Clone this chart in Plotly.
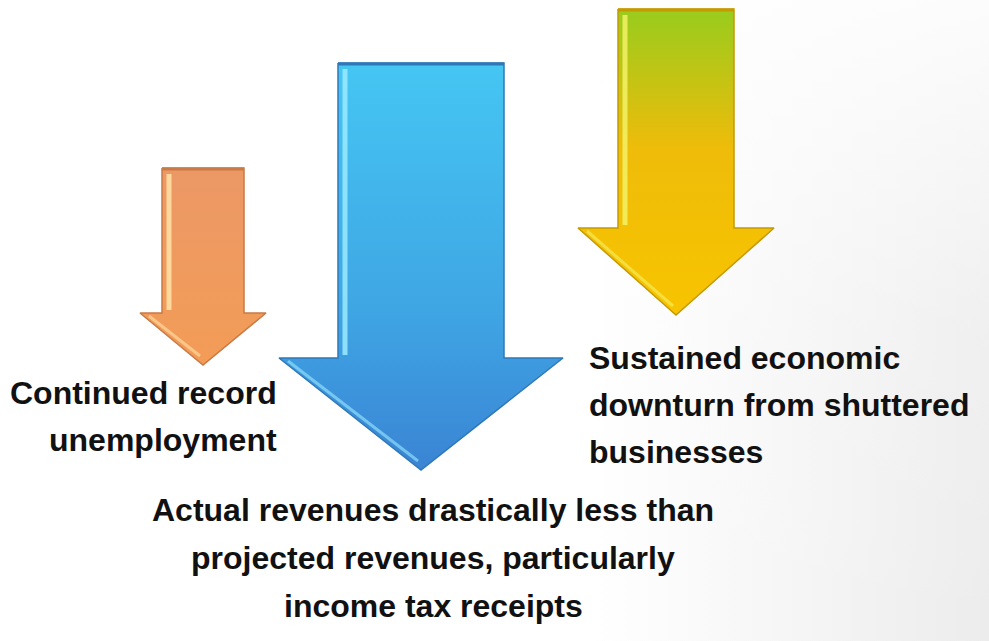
import plotly.graph_objects as go

# Three downward arrows, each labelled with a revenue pressure
labels = [
    ["Continued record", "unemployment"],
    ["Actual revenues drastically less than", "projected revenues, particularly", "income tax receipts"],
    ["Sustained economic", "downturn from shuttered", "businesses"],
]

# Arrow geometry (pixel space): centre x, shaft top, head start, tip, shaft half-width, head half-width
arrow_cx = [203, 421, 676]
arrow_top = [168, 63, 9]
arrow_head = [313, 358, 228]
arrow_tip = [365, 470, 315]
shaft_half = [41, 83, 58]
head_half = [63, 142, 98]

arrow_scales = [
    [[0, "#EC9866"], [1, "#F39C57"]],
    [[0, "#45C6F3"], [0.6, "#3FA6E4"], [1, "#3A84D4"]],
    [[0, "#98CC1E"], [0.45, "#EEBC0A"], [1, "#F8C400"]],
]
edge_colors = ["#C97A45", "#2F78B8", "#C49A00"]
highlight_colors = ["#FFE3A8", "#9BEBFF", "#F4F266"]

W, H = 989, 641

fig = go.Figure()

# soft grey wash toward the right edge, lifted back to white near the top
fig.add_trace(go.Scatter(
    x=[0, W, W, 0, 0], y=[0, 0, H, H, 0], mode="lines", fill="toself",
    line=dict(width=0),
    fillgradient=dict(type="horizontal", start=0, stop=W,
                      colorscale=[[0, "#FFFFFF"], [0.6, "#FFFFFF"], [1, "#ECECEC"]]),
    hoverinfo="skip", showlegend=False,
))
fig.add_trace(go.Scatter(
    x=[0, W, W, 0, 0], y=[0, 0, H, H, 0], mode="lines", fill="toself",
    line=dict(width=0),
    fillgradient=dict(type="vertical", start=0, stop=H,
                      colorscale=[[0, "rgba(255,255,255,0.85)"], [0.5, "rgba(255,255,255,0.2)"],
                                  [1, "rgba(255,255,255,0)"]]),
    hoverinfo="skip", showlegend=False,
))

for i in range(3):
    cx, top, head, tip = arrow_cx[i], arrow_top[i], arrow_head[i], arrow_tip[i]
    sh, hh = shaft_half[i], head_half[i]
    xs = [cx - sh, cx + sh, cx + sh, cx + hh, cx, cx - hh, cx - sh, cx - sh]
    ys = [top, top, head, head, tip, head, head, top]
    fig.add_trace(go.Scatter(
        x=xs, y=ys, mode="lines", fill="toself",
        line=dict(color=edge_colors[i], width=1.5),
        fillgradient=dict(type="vertical", start=top, stop=tip, colorscale=arrow_scales[i]),
        hoverinfo="skip", showlegend=False,
    ))
    # bevel highlight on the left of the shaft and along the left wing
    fig.add_trace(go.Scatter(
        x=[cx - sh + 7, cx - sh + 7], y=[top + 6, head - 3], mode="lines",
        line=dict(color=highlight_colors[i], width=5),
        opacity=0.85, hoverinfo="skip", showlegend=False,
    ))
    fig.add_trace(go.Scatter(
        x=[cx - hh + 9, cx - 3], y=[head + 3, tip - 9], mode="lines",
        line=dict(color=highlight_colors[i], width=3),
        opacity=0.6, hoverinfo="skip", showlegend=False,
    ))
    # darker top edge
    fig.add_trace(go.Scatter(
        x=[cx - sh, cx + sh], y=[top + 1, top + 1], mode="lines",
        line=dict(color=edge_colors[i], width=3),
        hoverinfo="skip", showlegend=False,
    ))

font = dict(family="Liberation Sans Narrow, Arial Narrow, Liberation Sans", size=32, color="#111111")

# left label (right-aligned beside the orange arrow)
for k, line in enumerate(labels[0]):
    fig.add_annotation(x=279, y=393 + 47 * k, text="<b>%s</b>" % line, showarrow=False,
                       xanchor="right", yanchor="middle", font=font)
# bottom label (centred under the blue arrow)
for k, line in enumerate(labels[1]):
    fig.add_annotation(x=433, y=510 + 48 * k, text="<b>%s</b>" % line, showarrow=False,
                       xanchor="center", yanchor="middle", font=font)
# right label (left-aligned beside the yellow arrow)
for k, line in enumerate(labels[2]):
    fig.add_annotation(x=587, y=358 + 47 * k, text="<b>%s</b>" % line, showarrow=False,
                       xanchor="left", yanchor="middle", font=font)

fig.update_xaxes(range=[0, W], visible=False, fixedrange=True)
fig.update_yaxes(range=[H, 0], visible=False, fixedrange=True)
fig.update_layout(
    width=W, height=H, margin=dict(l=0, r=0, t=0, b=0),
    paper_bgcolor="#FFFFFF", plot_bgcolor="#FFFFFF", showlegend=False,
)

fig.write_html("out.html")
